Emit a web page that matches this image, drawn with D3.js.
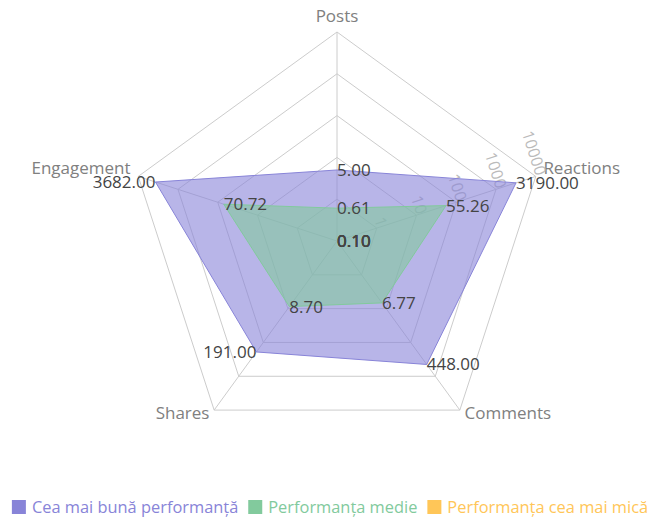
<!DOCTYPE html>
<html>
<head>
<meta charset="utf-8">
<script src="https://cdn.jsdelivr.net/npm/d3@7"></script>
<style>
  body { margin: 0; background: #fff; }
  svg { font-family: "Segoe UI", "Open Sans", sans-serif; }
</style>
</head>
<body>
<svg id="chart" width="654" height="518"></svg>
<script>
const axes = ["Posts", "Reactions", "Comments", "Shares", "Engagement"];
const bestValues = [5.0, 3190.0, 448.0, 191.0, 3682.0];
const mediumValues = [0.61, 55.26, 6.77, 8.7, 70.72];
const minValues = [0.1, 0.1, 0.1, 0.1, 0.1];
const radiusTicks = [1, 10, 100, 1000, 10000];
const seriesNames = ["Cea mai bună performanță", "Performanța medie", "Performanța cea mai mică"];
const seriesColors = ["#8884d8", "#82ca9d", "#ffc658"];

const svg = d3.select("#chart");
const cx = 337, cy = 241, R = 209;

// log radius scale, 0.1 sits at the centre
const rScale = d3.scaleLog().domain([0.1, 10000]).range([0, R]);

const angleOf = (i) => ((90 - (360 / axes.length) * i) * Math.PI) / 180;
const pt = (i, r) => [cx + r * Math.cos(angleOf(i)), cy - r * Math.sin(angleOf(i))];

// grid rings
const grid = svg.append("g").attr("class", "grid");
radiusTicks.forEach((t) => {
  const r = rScale(t);
  grid
    .append("polygon")
    .attr("points", axes.map((_, i) => pt(i, r).join(",")).join(" "))
    .attr("fill", "none")
    .attr("stroke", "#ccc");
});

// spokes
axes.forEach((_, i) => {
  const [x, y] = pt(i, R);
  grid
    .append("line")
    .attr("x1", cx)
    .attr("y1", cy)
    .attr("x2", x)
    .attr("y2", y)
    .attr("stroke", "#ccc");
});

// axis names
axes.forEach((name, i) => {
  const [x, y] = pt(i, R + 8);
  const c = Math.cos(angleOf(i));
  svg
    .append("text")
    .attr("x", x)
    .attr("y", y)
    .attr("dy", i === 0 ? -2 : i === 2 || i === 3 ? 2 : 0)
    .attr("text-anchor", c > 1e-5 ? "start" : c < -1e-5 ? "end" : "middle")
    .attr("fill", "#808080")
    .style("font-size", "17px")
    .text(name);
});

// radius axis tick labels along the Reactions axis
const tickAngle = 90 - 360 / axes.length;
radiusTicks.forEach((t) => {
  const [x, y] = pt(1, rScale(t));
  svg
    .append("text")
    .attr("x", x)
    .attr("y", y)
    .attr("text-anchor", "end")
    .attr("transform", `rotate(${90 - tickAngle}, ${x}, ${y})`)
    .attr("fill", "#bbb")
    .style("font-size", "16px")
    .text(t);
});

// radar areas
const allSeries = [bestValues, mediumValues, minValues];
const areas = svg.append("g");
allSeries.forEach((vals, s) => {
  areas
    .append("polygon")
    .attr("points", vals.map((v, i) => pt(i, rScale(v)).join(",")).join(" "))
    .attr("fill", seriesColors[s])
    .attr("fill-opacity", 0.6)
    .attr("stroke", seriesColors[s]);
});

// value labels (outer series: left-side labels end at the point)
allSeries.forEach((vals, s) => {
  svg
    .append("g")
    .selectAll("text")
    .data(vals)
    .join("text")
    .attr("x", (d, i) => pt(i, rScale(d))[0])
    .attr("y", (d, i) => pt(i, rScale(d))[1])
    .attr("dy", "0.35em")
    .attr("text-anchor", (d, i) => (s === 0 && Math.cos(angleOf(i)) < -1e-5 ? "end" : "start"))
    .attr("fill", "#444")
    .style("font-size", "17px")
    .text((d) => d3.format(".2f")(d));
});

// legend
const legend = svg.append("g").attr("transform", "translate(0, 507)");
let lx = 0;
seriesNames.forEach((name, s) => {
  const item = legend.append("g").attr("transform", `translate(${lx},0)`);
  item
    .append("rect")
    .attr("x", 0)
    .attr("y", -7)
    .attr("width", 14)
    .attr("height", 14)
    .attr("fill", seriesColors[s]);
  const txt = item
    .append("text")
    .attr("x", 20)
    .attr("dy", "0.35em")
    .attr("fill", seriesColors[s])
    .style("font-size", "16.4px")
    .text(name);
  lx += 20 + txt.node().getComputedTextLength() + 10;
});
lx -= 10;
legend.attr("transform", `translate(${(654 - lx) / 2 + 3}, 507)`);
</script>
</body>
</html>
